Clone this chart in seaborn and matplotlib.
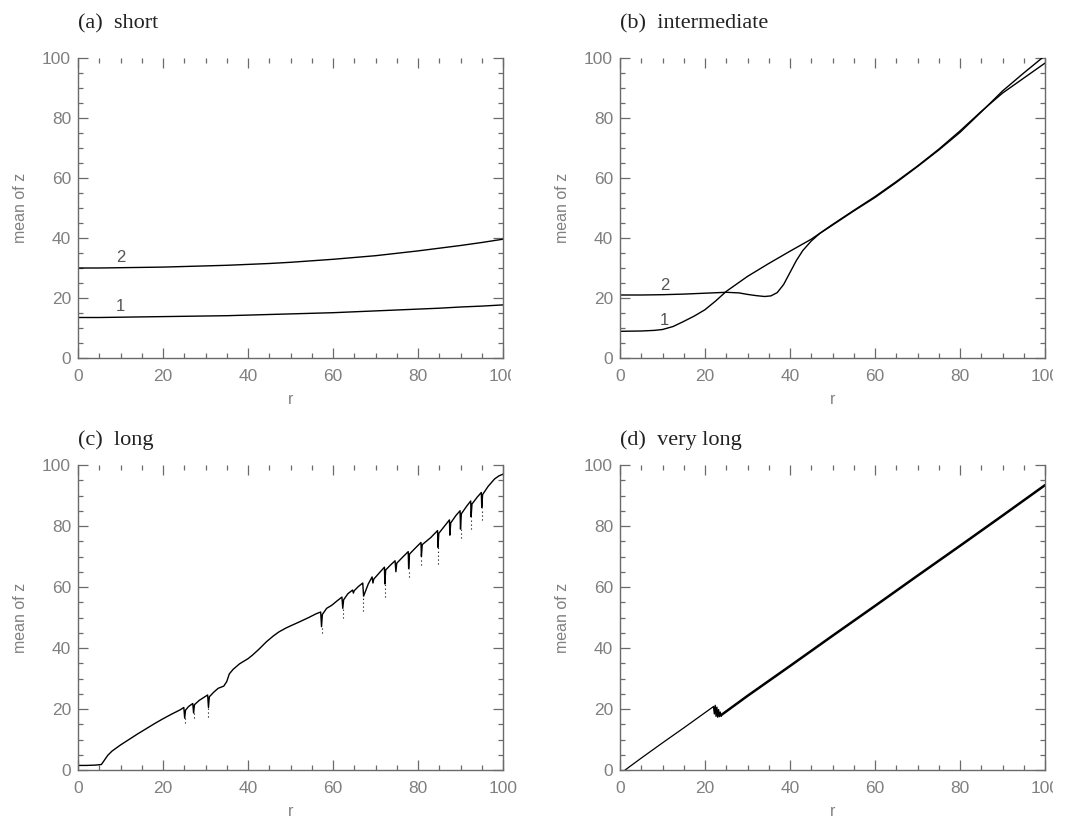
import numpy as np
import pandas as pd
import matplotlib
matplotlib.use("Agg")
import matplotlib.pyplot as plt
from matplotlib.ticker import MultipleLocator
from matplotlib.transforms import Bbox
import seaborn as sns

# ---- data ----
# (a) short
r_a = [0, 5, 10, 15, 20, 25, 30, 35, 40, 45, 50, 55, 60, 65, 70, 75, 80, 85, 90, 95, 100]
z_a1 = [13.5, 13.5, 13.6, 13.7, 13.8, 13.9, 14.0, 14.1, 14.3, 14.5, 14.7, 14.9, 15.1, 15.4, 15.7, 16.0, 16.3, 16.6, 17.0, 17.3, 17.7]
z_a2 = [30.0, 30.0, 30.1, 30.2, 30.3, 30.5, 30.7, 30.9, 31.2, 31.5, 31.9, 32.4, 32.9, 33.5, 34.1, 34.9, 35.7, 36.6, 37.5, 38.5, 39.6]

# (b) intermediate
r_b1 = [0, 5, 8, 10, 12.5, 15, 17.5, 20, 22.5, 25, 30, 35, 40, 45, 50, 55, 60, 65, 70, 75, 80, 85, 90, 95, 100]
z_b1 = [8.9, 9.0, 9.2, 9.5, 10.5, 12.2, 14.0, 16.1, 19.0, 22.2, 27.2, 31.5, 35.6, 39.6, 44.5, 49.2, 53.8, 58.8, 64.0, 69.6, 75.7, 82.2, 88.3, 93.3, 98.3]
r_b2 = [0, 5, 10, 15, 20, 25, 28, 30, 32, 34, 35.5, 37, 38.5, 40, 41.5, 43, 45, 47, 50, 55, 60, 65, 70, 75, 80, 85, 90, 95, 100]
z_b2 = [21.0, 21.0, 21.1, 21.3, 21.6, 21.9, 21.7, 21.2, 20.8, 20.5, 20.7, 21.8, 24.5, 28.5, 32.5, 35.8, 39.0, 41.5, 44.3, 49.0, 53.5, 58.5, 63.8, 69.3, 75.2, 82.0, 89.0, 95.0, 100.8]

# (c) long
r_c = [0, 2, 4, 5.5, 6.2, 7, 8, 10, 12, 14, 16, 18, 20, 22, 24, 24.9, 25.1, 25.3, 26, 27.0, 27.2, 27.4,
       28.5, 30.5, 30.7, 30.9, 32, 33, 34.3, 35, 35.6, 36.5, 38, 40, 41, 42.5, 44.3, 46, 47.3, 49, 50.4,
       52, 54.3, 56, 57.1, 57.3, 57.5, 58.5, 59.7, 61, 62.1, 62.3, 62.5, 63.5, 64.6, 64.8, 65.0, 66.0, 66.9,
       67.0, 67.2, 68.3, 69.2, 69.4, 69.6, 71.0, 72.1, 72.2, 72.4, 73.6, 74.6, 74.8, 75.0, 76.4, 77.7, 77.8,
       78.0, 79.4, 80.7, 80.8, 81.0, 83.0, 84.6, 84.7, 84.9, 86.2, 87.4, 87.5, 87.7, 88.9, 89.9, 90.0, 90.2,
       91.4, 92.4, 92.5, 92.7, 93.9, 94.9, 95.0, 95.2, 96.5, 98, 99, 100]
z_c = [1.5, 1.5, 1.6, 1.8, 3.2, 4.8, 6.2, 8.2, 10.0, 11.8, 13.5, 15.2, 16.8, 18.3, 19.7, 20.5, 17.0, 19.6, 20.8, 21.8, 18.7, 21.4,
       22.8, 24.6, 20.5, 24.0, 25.6, 26.8, 27.5, 29.0, 31.5, 33.0, 34.8, 36.5, 37.6, 39.5, 42.0, 44.0, 45.3, 46.6, 47.5,
       48.5, 50.0, 51.2, 51.8, 47.0, 51.0, 53.0, 54.0, 55.5, 56.7, 53.0, 55.8, 57.8, 59.0, 58.0, 58.8, 60.2, 61.2,
       61.3, 57.0, 61.0, 63.3, 61.3, 62.6, 64.8, 66.5, 61.0, 65.6, 67.3, 68.6, 65.0, 67.8, 69.8, 71.6, 66.0,
       70.8, 72.8, 74.6, 70.0, 73.9, 76.2, 78.5, 73.0, 77.6, 79.9, 82.0, 77.0, 81.0, 83.4, 85.0, 79.0, 84.0,
       86.4, 88.2, 83.0, 87.2, 89.4, 91.0, 86.0, 90.3, 93.0, 95.4, 96.4, 97.0]
# dotted tails below the cusps in (c)
dip_r = [25.1, 27.2, 30.7, 57.3, 62.3, 67.0, 72.2, 77.8, 80.8, 84.7, 90.0, 92.5, 95.0]
dip_top = [17.0, 18.7, 20.5, 47.0, 53.0, 57.0, 61.0, 66.0, 70.0, 73.0, 79.0, 83.0, 86.0]
dip_bot = [15.5, 17.0, 17.5, 45.0, 50.0, 52.0, 56.7, 63.3, 67.2, 67.5, 76.0, 79.0, 82.0]

# (d) very long
r_d1 = [1.2, 5, 10, 15, 20, 22.0]
z_d1 = [0.0, 3.9, 8.9, 13.8, 18.8, 20.8]
r_d2 = [22.0, 22.2, 22.4, 22.6, 22.8, 23.0, 23.2, 23.4, 23.6, 23.8, 24.0]
z_d2 = [20.8, 18.4, 21.2, 17.6, 20.6, 17.3, 19.8, 17.5, 19.0, 17.6, 18.2]
r_d3 = [24.0, 30, 40, 50, 60, 70, 80, 90, 100]
z_d3 = [18.2, 24.3, 34.1, 44.0, 53.8, 63.7, 73.5, 83.4, 93.4]

titles = ["(a)  short", "(b)  intermediate", "(c)  long", "(d)  very long"]

sns.set_style("ticks")
plt.rcParams['font.family'] = ['Liberation Sans', 'DejaVu Sans']

fig = plt.figure(figsize=(10.66, 8.18), dpi=100)
W, H = 1066, 818
boxes = [(78, 58, 425, 300), (620, 58, 425, 300), (78, 465, 425, 305), (620, 465, 425, 305)]
title_dy = [34, 34, 25, 25]
cut_100 = [True, True, False, True]
axes = []
for (l, t, w, h) in boxes:
    axes.append(fig.add_axes([l / W, 1 - (t + h) / H, w / W, h / H]))

grey = '#6a6a6a'
for i, ax in enumerate(axes):
    ax.set_xlim(0, 100)
    ax.set_ylim(0, 100)
    ax.xaxis.set_major_locator(MultipleLocator(20))
    ax.xaxis.set_minor_locator(MultipleLocator(5))
    ax.yaxis.set_major_locator(MultipleLocator(20))
    ax.yaxis.set_minor_locator(MultipleLocator(5))
    ax.tick_params(which='both', direction='in', top=True, right=True, color=grey,
                   labelcolor='#808080', labelsize=12.5, width=0.9)
    ax.tick_params(which='major', length=7)
    ax.tick_params(which='minor', length=3.5)
    ax.tick_params(axis='x', pad=8)
    ax.tick_params(axis='y', pad=5)
    for s in ['left', 'right', 'bottom']:
        ax.spines[s].set_color(grey)
        ax.spines[s].set_linewidth(1.0)
    ax.spines['top'].set_visible(False)
    ax.set_xlabel('r', color='#808080', fontsize=11.5, labelpad=6)
    ax.set_ylabel('mean of z', color='#808080', fontsize=11.5, labelpad=10)
    l, t, w, h = boxes[i]
    fig.text(l / W, 1 - (t - title_dy[i]) / H, titles[i], family='Liberation Serif',
             fontsize=16, ha='left', va='center', color='#222222')

lw = 1.0
ax = axes[0]
sns.lineplot(x=r_a, y=z_a1, ax=ax, color='k', lw=lw)
sns.lineplot(x=r_a, y=z_a2, ax=ax, color='k', lw=lw)
ax.text(10, 15.8, '1', fontsize=12, color='#555555', ha='center')
ax.text(10, 32.0, '2', fontsize=12, color='#555555', ha='center')

ax = axes[1]
sns.lineplot(x=r_b1, y=z_b1, ax=ax, color='k', lw=lw)
sns.lineplot(x=r_b2, y=z_b2, ax=ax, color='k', lw=lw)
ax.text(10.5, 11.0, '1', fontsize=12, color='#555555', ha='center')
ax.text(10.5, 22.8, '2', fontsize=12, color='#555555', ha='center')

ax = axes[2]
sns.lineplot(x=r_c, y=z_c, ax=ax, color='k', lw=lw, sort=False)
ax.vlines(dip_r, dip_bot, dip_top, colors='k', linestyles=(0, (1, 2.5)), lw=0.8)

ax = axes[3]
sns.lineplot(x=r_d1, y=z_d1, ax=ax, color='k', lw=0.9)
sns.lineplot(x=r_d2, y=z_d2, ax=ax, color='k', lw=1.0, sort=False)
sns.lineplot(x=r_d3, y=z_d3, ax=ax, color='k', lw=1.8)

# the "100" on the r axis is cut off at the panel edge in the original
fig.canvas.draw()
for i, ax in enumerate(axes):
    if not cut_100[i]:
        continue
    l, t, w, h = boxes[i]
    clip = Bbox([[0, 0], [l + w + 8, H]])
    for lab in ax.get_xticklabels():
        if lab.get_text() == '100':
            lab.set_clip_box(clip)
            lab.set_clip_on(True)

fig.savefig('out.png', dpi=100)
